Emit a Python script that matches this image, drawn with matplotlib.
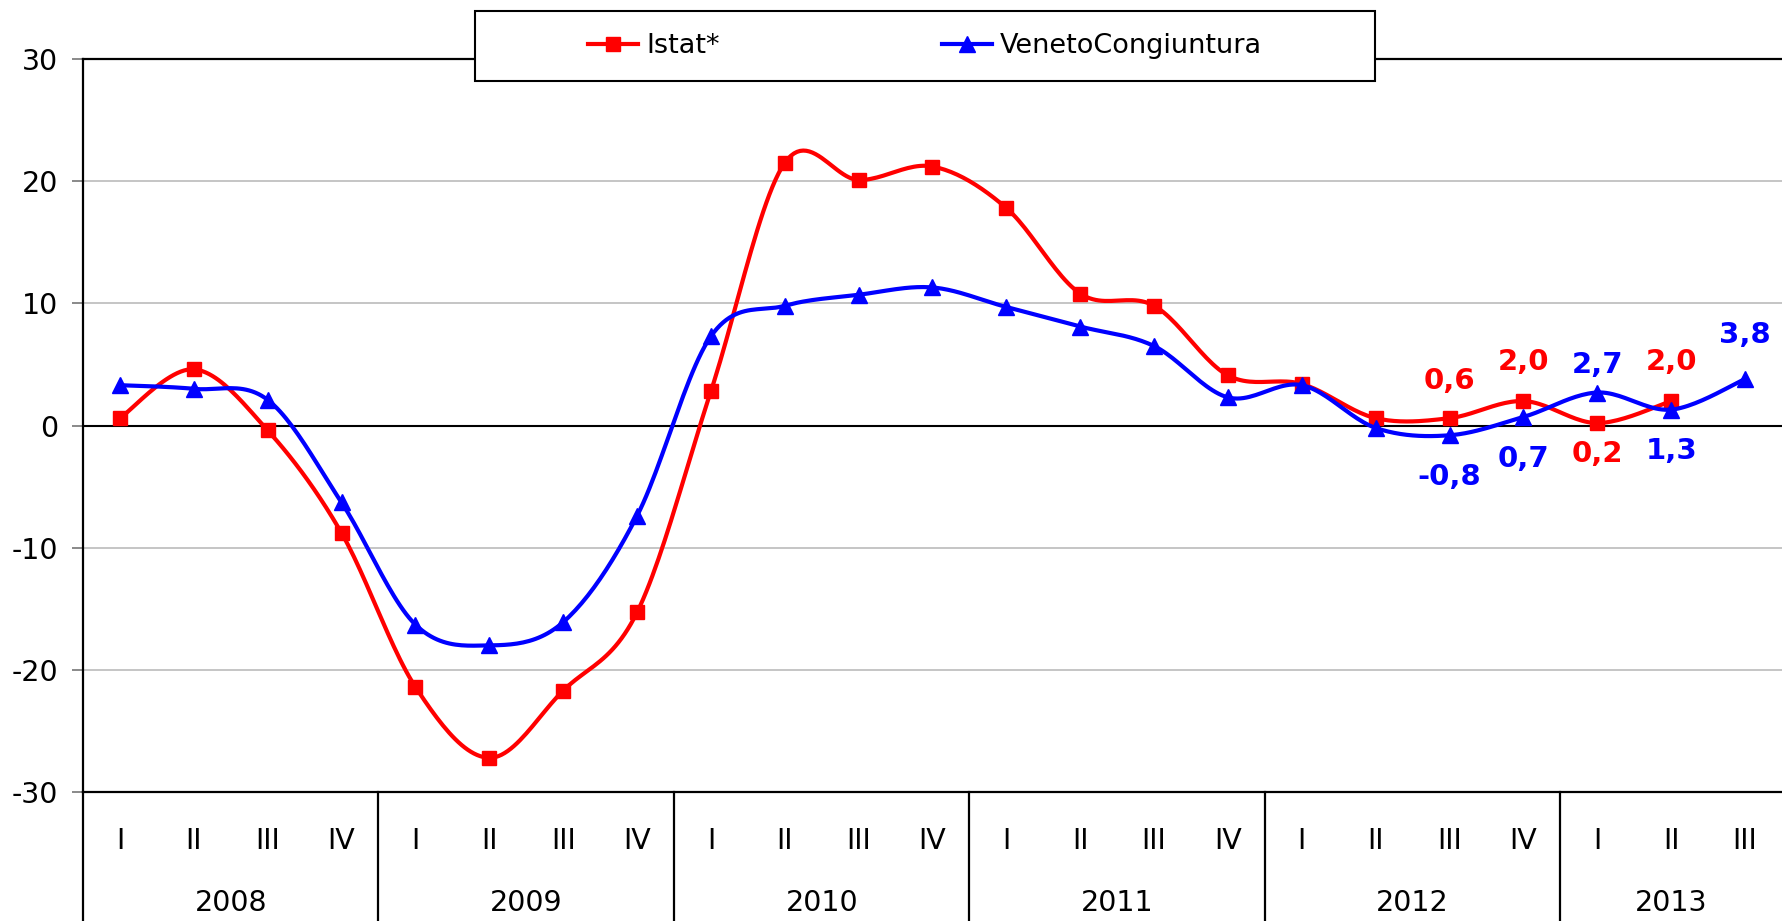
import numpy as np
import matplotlib.pyplot as plt
from matplotlib.patches import Rectangle
from matplotlib.lines import Line2D

# Datos: variazione tendenziale per trimestre (2008 I - 2013 III)
trimestri = ['I', 'II', 'III', 'IV'] * 5 + ['I', 'II', 'III']
anni = ['2008', '2009', '2010', '2011', '2012', '2013']
trim_per_anno = [4, 4, 4, 4, 4, 3]

istat = [0.6, 4.6, -0.4, -8.8,
         -21.4, -27.2, -21.7, -15.3,
         2.8, 21.5, 20.1, 21.2,
         17.8, 10.8, 9.8, 4.1,
         3.4, 0.6, 0.6, 2.0,
         0.2, 2.0]
veneto = [3.3, 3.0, 2.1, -6.3,
          -16.3, -18.0, -16.1, -7.4,
          7.3, 9.8, 10.7, 11.3,
          9.7, 8.1, 6.5, 2.3,
          3.3, -0.2, -0.8, 0.7,
          2.7, 1.3, 3.8]

# Etichette dati (indice del trimestre, offset verticale in punti)
istat_etichette = [(18, 27), (19, 28), (20, -22), (21, 28)]
veneto_etichette = [(18, -30), (19, -30), (20, 20), (21, -30), (22, 32)]


def suavizar(xs, ys, n=25):
    # curva liscia tipo Excel (Bezier / Catmull-Rom)
    P = np.column_stack([xs, ys]).astype(float)
    Pe = np.vstack([P[0], P, P[-1]])
    t = np.linspace(0, 1, n)[:, None]
    out = []
    for i in range(len(P) - 1):
        p0, p1, p2, p3 = Pe[i], Pe[i + 1], Pe[i + 2], Pe[i + 3]
        b1 = p1 + (p2 - p0) / 6
        b2 = p2 - (p3 - p1) / 6
        seg = (1 - t) ** 3 * p1 + 3 * (1 - t) ** 2 * t * b1 + 3 * (1 - t) * t ** 2 * b2 + t ** 3 * p2
        out.append(seg if i == 0 else seg[1:])
    return np.vstack(out)


plt.rcParams['font.family'] = ['DejaVu Sans']
fs = 20.5

fig = plt.figure(figsize=(17.82, 9.21), dpi=100)
ax = fig.add_axes([83 / 1782, 1 - 792 / 921, 1 - 83 / 1782, (792 - 59) / 921])

x_i = np.arange(len(istat))
x_v = np.arange(len(veneto))

# Griglia e linea dello zero
for yv in [-20, -10, 10, 20]:
    ax.axhline(yv, color='#c0c0c0', lw=1.3, zorder=1)
ax.axhline(0, color='black', lw=1.5, zorder=2)

c_i = suavizar(x_i, istat)
c_v = suavizar(x_v, veneto)
ax.plot(c_i[:, 0], c_i[:, 1], color='#ff0000', lw=3, zorder=3, solid_capstyle='round')
ax.plot(x_i, istat, 's', color='#ff0000', ms=10.5, zorder=4)
ax.plot(c_v[:, 0], c_v[:, 1], color='#0000ff', lw=3, zorder=5, solid_capstyle='round')
ax.plot(x_v, veneto, '^', color='#0000ff', ms=11.5, zorder=6)


def fmt(v):
    return f'{v:.1f}'.replace('.', ',')


for idx, off in istat_etichette:
    ax.annotate(fmt(istat[idx]), (idx, istat[idx]), xytext=(0, off), textcoords='offset points',
                ha='center', va='center', color='#ff0000', fontsize=21, fontweight='bold', zorder=7)
for idx, off in veneto_etichette:
    ax.annotate(fmt(veneto[idx]), (idx, veneto[idx]), xytext=(0, off), textcoords='offset points',
                ha='center', va='center', color='#0000ff', fontsize=21, fontweight='bold', zorder=7,
                annotation_clip=False)

ax.set_xlim(-0.5, len(trimestri) - 0.5)
ax.set_ylim(-30, 30)
ax.set_yticks(range(-30, 31, 10))
ax.set_yticklabels([str(v) for v in range(-30, 31, 10)], fontsize=fs)
ax.tick_params(axis='y', length=8, width=1.3, color='#808080', pad=10)
ax.set_xticks([])

for s in ['left', 'top', 'bottom']:
    ax.spines[s].set_color('black')
    ax.spines[s].set_linewidth(1.6)
ax.spines['right'].set_visible(False)

# Tabella delle categorie sotto l'asse
trans = ax.get_xaxis_transform()
for i, q in enumerate(trimestri):
    ax.text(i, -0.067, q, transform=trans, ha='center', va='center', fontsize=fs, clip_on=False)
inizio = -0.5
for anno, n in zip(anni, trim_per_anno):
    ax.plot([inizio, inizio], [0, -0.2], transform=trans, color='black', lw=1.6, clip_on=False)
    ax.text(inizio + n / 2, -0.151, anno, transform=trans, ha='center', va='center',
            fontsize=fs, clip_on=False)
    inizio += n

# Legenda con riquadro
fig.add_artist(Rectangle((475 / 1782, 1 - 81 / 921), 900 / 1782, 70 / 921, transform=fig.transFigure,
                         facecolor='white', edgecolor='black', lw=1.5, zorder=4))
handles = [Line2D([], [], color='#ff0000', lw=3, marker='s', ms=10.5),
           Line2D([], [], color='#0000ff', lw=3, marker='^', ms=11.5)]
fig.legend(handles, ['Istat*', 'VenetoCongiuntura'], loc='center', bbox_to_anchor=(925 / 1782, 1 - 46 / 921),
           ncol=2, frameon=False, fontsize=19.5, handlelength=1.85, handletextpad=0.3, columnspacing=8.2)

plt.savefig('out.png', dpi=100)
